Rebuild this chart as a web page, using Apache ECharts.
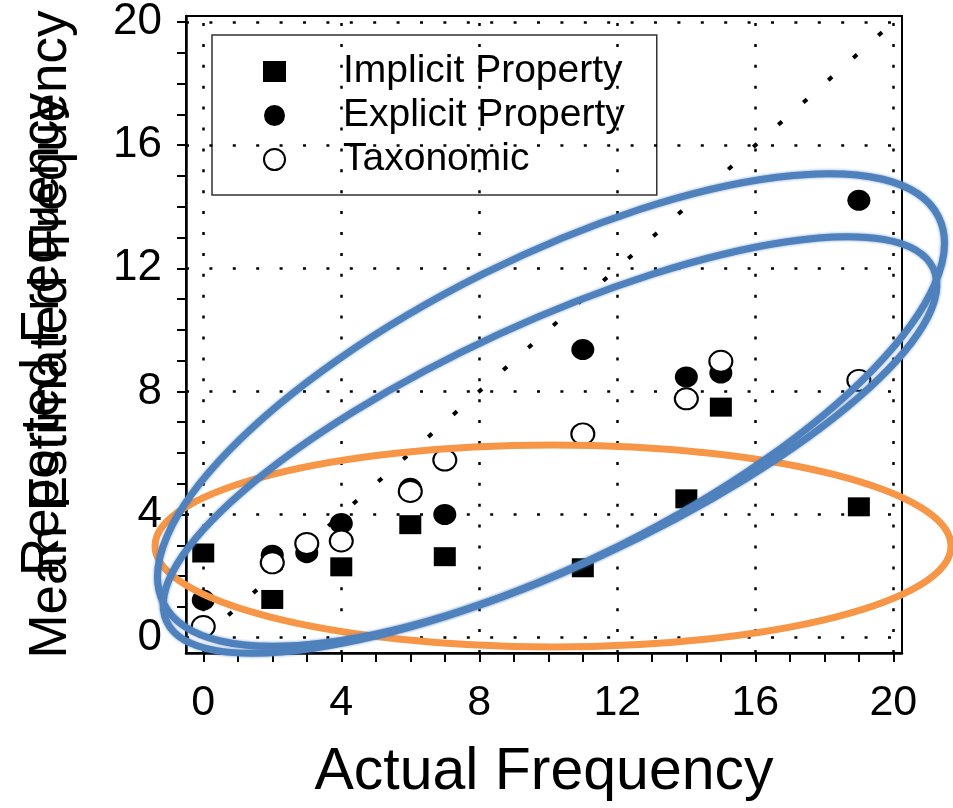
<!DOCTYPE html>
<html>
<head>
<meta charset="utf-8">
<script src="https://cdn.jsdelivr.net/npm/echarts@6/dist/echarts.min.js"></script>
<style>
html,body{margin:0;padding:0;background:#fff;}
#chart{width:953px;height:808px;}
</style>
</head>
<body>
<div id="chart"></div>
<script>
// ---- data ----
var actualFreq = [0, 2, 3, 4, 6, 7, 11, 14, 15, 19];
var implicitProp = [[0, 2.75], [2, 1.24], [4, 2.3], [6, 3.67], [7, 2.63], [11, 2.27], [14, 4.51], [15, 7.49], [19, 4.25]];
var explicitProp = [[0, 1.22], [2, 2.68], [3, 2.76], [4, 3.71], [6, 4.85], [7, 4.0], [11, 9.36], [14, 8.47], [15, 8.6], [19, 14.21]];
var taxonomic = [[0, 0.36], [2, 2.43], [3, 3.06], [4, 3.14], [6, 4.75], [7, 5.77], [11, 6.62], [14, 7.76], [15, 8.98], [19, 8.36]];
var identityLine = [[0, 0], [20, 20]];
var majorTicks = [0, 4, 8, 12, 16, 20];
var minorTicks = [0,1,2,3,4,5,6,7,8,9,10,11,12,13,14,15,16,17,18,19,20];
var seriesNames = ['Implicit Property', 'Explicit Property', 'Taxonomic'];

var FONT = 'Liberation Sans, Arial, sans-serif';
var ellipsePath = 'path://M0,1a1,1 0 1,0 2,0a1,1 0 1,0 -2,0z';

var chart = echarts.init(document.getElementById('chart'));

var gridMarks = [];
majorTicks.forEach(function (v) {
  gridMarks.push({ xAxis: v, lineStyle: { type: [3, 17.9] } });
  gridMarks.push({ yAxis: v, lineStyle: { type: [3, 20.4] } });
});

function blueEllipse(cx, cy, rx, ry, deg) {
  return {
    type: 'ellipse', x: cx, y: cy, rotation: deg * Math.PI / 180, z: 100,
    shape: { cx: 0, cy: 0, rx: rx, ry: ry },
    style: { fill: 'none', stroke: '#4F81BD', lineWidth: 7, shadowBlur: 3, shadowColor: 'rgba(79,129,189,0.8)' },
    silent: true
  };
}

var option = {
  backgroundColor: '#fff',
  animation: false,
  textStyle: { fontFamily: FONT },
  grid: { left: 186, right: 51, top: 16, bottom: 155, show: true, borderColor: '#000', borderWidth: 2, backgroundColor: 'transparent' },
  legend: {
    data: seriesNames,
    orient: 'vertical',
    left: 212, top: 35,
    padding: [17, 32, 16, 51],
    itemGap: 5,
    itemWidth: 23, itemHeight: 21,
    backgroundColor: '#fff',
    borderColor: '#333', borderWidth: 1.5,
    textStyle: { fontSize: 39, color: '#000', fontFamily: FONT, padding: [0, 0, 0, 52] }
  },
  xAxis: {
    type: 'value', min: -0.5, max: 20.25,
    name: 'Actual Frequency', nameLocation: 'middle', nameGap: 90,
    nameTextStyle: { fontSize: 59, color: '#000', fontFamily: FONT },
    axisLine: { show: true, onZero: false, lineStyle: { color: '#000', width: 2.5 } },
    axisTick: { show: true, length: 9, customValues: minorTicks, lineStyle: { color: '#000', width: 2 } },
    axisLabel: { customValues: majorTicks, fontSize: 43, color: '#000', margin: 29, fontFamily: FONT },
    splitLine: { show: false }
  },
  yAxis: [{
    type: 'value', min: -0.5, max: 20.2,
    name: 'Mean Estimated Frequency', nameLocation: 'middle', nameGap: 108,
    nameTextStyle: { fontSize: 53, color: '#000', fontFamily: FONT },
    axisLine: { show: true, onZero: false, lineStyle: { color: '#000', width: 2.5 } },
    axisTick: { show: true, length: 9, customValues: minorTicks, lineStyle: { color: '#000', width: 2 } },
    axisLabel: { customValues: majorTicks, fontSize: 44, color: '#000', margin: 24, fontFamily: FONT },
    splitLine: { show: false }
  }, {
    type: 'value', min: -0.5, max: 20.2, position: 'left',
    name: 'Reported Frequency', nameLocation: 'middle', nameGap: 116,
    nameTextStyle: { fontSize: 53, color: '#000', fontFamily: FONT },
    axisLine: { show: false }, axisTick: { show: false }, axisLabel: { show: false }, splitLine: { show: false }
  }],
  series: [
    {
      name: 'identity', type: 'line', data: identityLine, symbol: 'none', silent: true, z: 1,
      lineStyle: { color: '#000', width: 4, type: [5, 28.5] },
      markLine: {
        silent: true, symbol: ['none', 'none'], label: { show: false },
        lineStyle: { color: '#000', width: 2.5 },
        data: gridMarks
      }
    },
    {
      name: seriesNames[0], type: 'scatter', data: implicitProp, symbol: 'rect', symbolSize: [22, 19], z: 3,
      itemStyle: { color: '#000', opacity: 1 }
    },
    {
      name: seriesNames[1], type: 'scatter', data: explicitProp, symbol: ellipsePath, symbolSize: [23, 21], z: 4,
      itemStyle: { color: '#000', opacity: 1 }
    },
    {
      name: seriesNames[2], type: 'scatter', data: taxonomic, symbol: ellipsePath, symbolSize: [23, 21], z: 5,
      itemStyle: { color: '#fff', borderColor: '#000', borderWidth: 2, opacity: 1 }
    }
  ],
  graphic: [
    {
      type: 'ellipse', x: 553, y: 546, z: 100, silent: true,
      shape: { cx: 0, cy: 0, rx: 398, ry: 101 },
      style: { fill: 'none', stroke: '#F79646', lineWidth: 7 }
    },
    blueEllipse(551, 410, 433, 152, 26.5),
    blueEllipse(550, 445, 422, 122, 24.7)
  ]
};
chart.setOption(option);
</script>
</body>
</html>
